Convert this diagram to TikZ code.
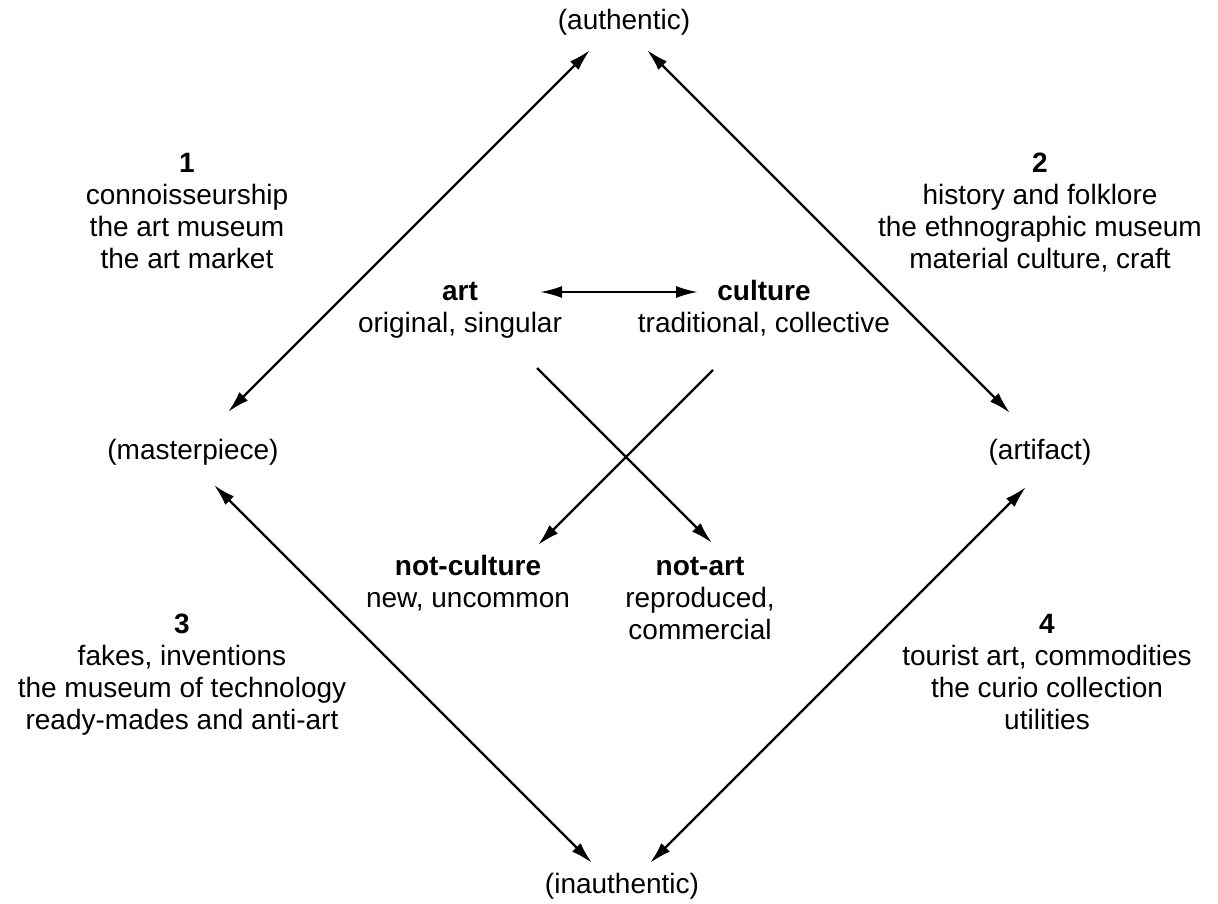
\documentclass[tikz,border=0pt]{standalone}
\usepackage{fontspec}
\setmainfont{Liberation Sans}
\usetikzlibrary{arrows.meta}
\begin{document}
\begin{tikzpicture}[x=1pt,y=-1pt,
  txt/.style={font=\fontsize{28}{32}\selectfont, inner sep=0pt, align=center},
  tip/.tip={Latex[length=22pt,width=12pt]},
  both/.style={line width=2.4pt, tip-tip},
  one/.style={line width=2.4pt, -tip}]
\useasboundingbox (0,0) rectangle (1218,904);
% pole labels
\node[txt, anchor=base] (auth) at (624,30) {(authentic)};
\node[txt, anchor=base] (inauth) at (622,893) {(inauthentic)};
\node[txt, anchor=base] (master) at (193,459) {(masterpiece)};
\node[txt, anchor=base] (artif) at (1040,459) {(artifact)};
% quadrant blocks
\node[txt] (q1) at (187,213.6) {\strut\textbf{1}\\connoisseurship\\the art museum\\the art market\strut};
\node[txt] (q2) at (1040,213.6) {\strut\textbf{2}\\history and folklore\\the ethnographic museum\\material culture, craft\strut};
\node[txt] (q3) at (182,674.6) {\strut\textbf{3}\\fakes, inventions\\the museum of technology\\ready-mades and anti-art\strut};
\node[txt] (q4) at (1047,674.6) {\strut\textbf{4}\\tourist art, commodities\\the curio collection\\utilities\strut};
% centre blocks
\node[txt] (art) at (460,309.6) {\strut\textbf{art}\\original, singular\strut};
\node[txt] (cult) at (764,309.6) {\strut\textbf{culture}\\traditional, collective\strut};
\node[txt] (ncult) at (468,584.6) {\strut\textbf{not-culture}\\new, uncommon\strut};
\node[txt] (nart) at (700,600.6) {\strut\textbf{not-art}\\reproduced,\\commercial\strut};
% arrow end points
\coordinate (a1) at (590,50);   \coordinate (m1) at (228,412);
\coordinate (a2) at (647,50);   \coordinate (f1) at (1010,413);
\coordinate (m2) at (214,485);  \coordinate (i1) at (592,863);
\coordinate (f2) at (1026,487); \coordinate (i2) at (650,863);
\coordinate (h1) at (540,292);  \coordinate (h2) at (698,292);
\coordinate (xa) at (537,368);  \coordinate (xna) at (712,543);
\coordinate (xc) at (713,370);  \coordinate (xnc) at (538,545);
% connectors
\draw[both] (a1) -- (m1);
\draw[both] (a2) -- (f1);
\draw[both] (m2) -- (i1);
\draw[both] (f2) -- (i2);
\draw[both] (h1) -- (h2);
\draw[one] (xa) -- (xna);
\draw[one] (xc) -- (xnc);
\end{tikzpicture}
\end{document}
